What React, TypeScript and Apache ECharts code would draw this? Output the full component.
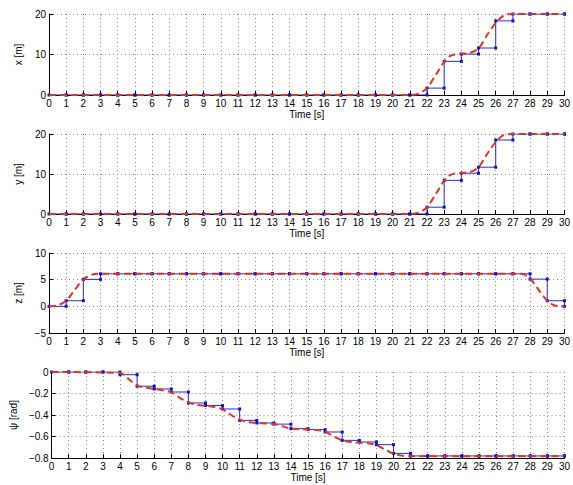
import React, { useEffect, useRef } from "react";
import * as echarts from "echarts";

// Sample times [s]
const times = [0, 1, 2, 3, 4, 5, 6, 7, 8, 9, 10, 11, 12, 13, 14, 15, 16, 17, 18, 19, 20, 21, 22, 23, 24, 25, 26, 27, 28, 29, 30];

// Sampled (zero-order hold) values, blue
const xSamples = [0, 0, 0, 0, 0, 0, 0, 0, 0, 0, 0, 0, 0, 0, 0, 0, 0, 0, 0, 0, 0, 0, 1.7, 8.3, 10.1, 11.6, 18.3, 20, 20, 20, 20];
const ySamples = [0, 0, 0, 0, 0, 0, 0, 0, 0, 0, 0, 0, 0, 0, 0, 0, 0, 0, 0, 0, 0, 0, 1.7, 8.4, 10.2, 11.7, 18.5, 20, 20, 20, 20];
const zSamples = [0, 1.05, 5.05, 6.1, 6.1, 6.1, 6.1, 6.1, 6.1, 6.1, 6.1, 6.1, 6.1, 6.1, 6.1, 6.1, 6.1, 6.1, 6.1, 6.1, 6.1, 6.1, 6.1, 6.1, 6.1, 6.1, 6.1, 6.1, 5.1, 1.05, 0];
const psiSamples = [0, 0, 0, 0, -0.025, -0.132, -0.158, -0.186, -0.288, -0.312, -0.344, -0.45, -0.474, -0.485, -0.527, -0.536, -0.558, -0.636, -0.651, -0.676, -0.757, -0.781, -0.781, -0.781, -0.781, -0.781, -0.781, -0.781, -0.781, -0.781, -0.781];

// Continuous reference trajectories, red dashed
const xRefT = [0, 21, 21.5, 22, 22.5, 23, 23.3, 23.6, 24, 24.5, 25, 25.5, 26, 26.5, 27, 30];
const xRefV = [0, 0, 0.3, 1.7, 4.9, 8.2, 9.5, 10.0, 10.2, 10.4, 11.5, 14.8, 17.8, 19.7, 20, 20];
const yRefT = [0, 21, 21.5, 22, 22.5, 23, 23.3, 23.6, 24, 24.5, 25, 25.5, 26, 26.5, 27, 30];
const yRefV = [0, 0, 0.3, 1.7, 4.9, 8.3, 9.6, 10.1, 10.3, 10.5, 11.7, 15.0, 18.0, 19.8, 20, 20];
const zRefT = [0, 0.5, 1, 1.5, 2, 2.5, 3, 27.5, 28, 28.5, 29, 29.5, 30];
const zRefV = [0, 0.2, 1.05, 3.1, 5.05, 5.95, 6.1, 6.1, 5.2, 3.1, 1.05, 0.1, 0];
const psiRefT = [0, 4, 4.5, 5, 5.5, 6, 6.5, 7, 7.5, 8, 8.5, 9, 9.5, 10, 10.5, 11, 11.5, 12, 12.5, 13, 13.5, 14, 14.5, 15, 15.5, 16, 16.5, 17, 17.5, 18, 18.5, 19, 19.5, 20, 20.5, 21, 30];
const psiRefV = [0, -0.01, -0.065, -0.127, -0.146, -0.158, -0.17, -0.19, -0.24, -0.282, -0.307, -0.313, -0.326, -0.347, -0.4, -0.443, -0.465, -0.474, -0.478, -0.484, -0.505, -0.527, -0.531, -0.536, -0.54, -0.555, -0.6, -0.636, -0.651, -0.657, -0.664, -0.679, -0.722, -0.76, -0.778, -0.784, -0.784];

// Axis settings
const yNames = ["x [m]", "y [m]", "z [m]", "ψ [rad]"];
const yMins = [0, 0, -5, -0.8];
const yMaxs = [20, 20, 10, 0];
const yIntervals = [10, 10, 5, 0.2];
const xLabel = "Time [s]";

const FONT = "Liberation Sans";

function stepPoints(t: number[], v: number[]) {
  const pts: number[][] = [];
  for (let i = 0; i < t.length; i++) {
    pts.push([t[i], v[i]]);
    if (i < t.length - 1) pts.push([t[i + 1], v[i]]);
  }
  return pts;
}

function pairs(t: number[], v: number[]) {
  return t.map((tt, i) => [tt, v[i]]);
}

function fmt(v: number) {
  const r = Math.round(v * 1000) / 1000;
  if (r === 0) return "0";
  let s = Number.isInteger(r) ? String(r) : r.toFixed(1);
  return s.replace("-", "\u2212");
}

export default function App() {
  const ref = useRef<HTMLDivElement>(null);
  useEffect(() => {
    if (!ref.current) return;
    const chart = echarts.init(ref.current, undefined, { renderer: "svg" });
    const grids = [
      { left: 49, top: 14, width: 519.5, height: 81 },
      { left: 49, top: 134, width: 519.5, height: 80 },
      { left: 49, top: 253, width: 519.5, height: 80 },
      { left: 49, top: 372, width: 519.5, height: 86 },
    ];
    const nameGaps = [16, 16, 16, 25];
    const samples = [xSamples, ySamples, zSamples, psiSamples];
    const refs = [
      pairs(xRefT, xRefV),
      pairs(yRefT, yRefV),
      pairs(zRefT, zRefV),
      pairs(psiRefT, psiRefV),
    ];
    const gridLine = { show: true, lineStyle: { color: "#8a8a8a", width: 1, type: [1, 3] as any } };
    const xAxes = grids.map((_, i) => ({
      type: "value",
      gridIndex: i,
      min: 0,
      max: 30,
      interval: 1,
      name: xLabel,
      nameLocation: "middle",
      nameGap: 14,
      nameTextStyle: { fontFamily: FONT, fontSize: 10, color: "#000" },
      axisLine: { show: true, onZero: false, lineStyle: { color: "#000", width: 1 } },
      axisTick: { show: true, inside: true, length: 4, lineStyle: { color: "#000" } },
      axisLabel: { fontFamily: FONT, fontSize: 10, color: "#000", margin: 3 },
      splitLine: gridLine,
    }));
    const yAxes = grids.map((_, i) => ({
      type: "value",
      gridIndex: i,
      min: yMins[i],
      max: yMaxs[i],
      interval: yIntervals[i],
      name: yNames[i],
      nameLocation: "middle",
      nameGap: nameGaps[i],
      nameRotate: 90,
      nameTextStyle: { fontFamily: FONT, fontSize: 10, color: "#000" },
      axisLine: { show: true, onZero: false, lineStyle: { color: "#000", width: 1 } },
      axisTick: { show: true, inside: true, length: 4, lineStyle: { color: "#000" } },
      axisLabel: { fontFamily: FONT, fontSize: 10, color: "#000", margin: 3, formatter: fmt },
      splitLine: gridLine,
    }));
    const series: any[] = [];
    grids.forEach((_, i) => {
      series.push({
        type: "line",
        xAxisIndex: i,
        yAxisIndex: i,
        data: stepPoints(times, samples[i]),
        symbol: "rect",
        symbolSize: 3,
        showSymbol: true,
        showAllSymbol: true,
        lineStyle: { color: "#2b2be0", width: 1 },
        itemStyle: { color: "#1212c0" },
        z: 2,
      });
      series.push({
        type: "line",
        xAxisIndex: i,
        yAxisIndex: i,
        data: refs[i],
        symbol: "none",
        smooth: 0.3,
        lineStyle: { color: "#dc3520", width: 2, type: [7, 4] },
        z: 3,
      });
    });
    chart.setOption({
      animation: false,
      backgroundColor: "#fff",
      grid: grids,
      xAxis: xAxes,
      yAxis: yAxes,
      series,
    });
    return () => chart.dispose();
  }, []);
  return (
    <div
      ref={ref}
      style={{ position: "absolute", left: 0, top: 0, width: 573, height: 485 }}
    />
  );
}
